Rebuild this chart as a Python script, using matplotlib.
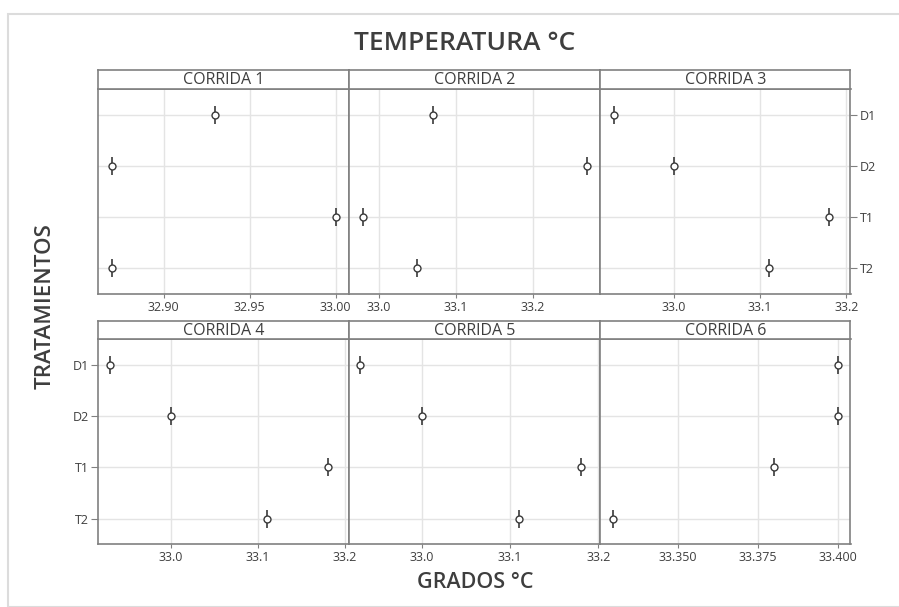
import matplotlib.pyplot as plt
import matplotlib.patches as mpatches
from matplotlib.ticker import FormatStrFormatter

plt.rcParams['font.family'] = ['Open Sans', 'DejaVu Sans']

# %% data
treatments = ['D1', 'D2', 'T1', 'T2']
corrida_1 = [32.93, 32.87, 33.00, 32.87]
corrida_2 = [33.07, 33.27, 32.98, 33.05]
corrida_3 = [32.93, 33.00, 33.18, 33.11]
corrida_4 = [32.93, 33.00, 33.18, 33.11]
corrida_5 = [32.93, 33.00, 33.18, 33.11]
corrida_6 = [33.40, 33.40, 33.38, 33.33]
panel_titles = ['CORRIDA 1', 'CORRIDA 2', 'CORRIDA 3',
                'CORRIDA 4', 'CORRIDA 5', 'CORRIDA 6']
x_ticks = [[32.90, 32.95, 33.00], [33.0, 33.1, 33.2], [33.0, 33.1, 33.2],
           [33.0, 33.1, 33.2], [33.0, 33.1, 33.2], [33.350, 33.375, 33.400]]
x_fmt = ['%.2f', '%.1f', '%.1f', '%.1f', '%.1f', '%.3f']
x_lims = [(32.862, 33.008), (32.962, 33.287), (32.914, 33.205),
          (32.917, 33.205), (32.918, 33.202), (33.3258, 33.404)]
series = [corrida_1, corrida_2, corrida_3, corrida_4, corrida_5, corrida_6]

# %% layout (pixels)
W, H = 899, 607
txt = '#3e3e3e'
edge = '#808080'
col_l = [98.3, 349.3, 600.0]
col_r = [349.3, 600.0, 850.5]
rows = [(89.3, 294.0, 70.0), (339.3, 544.3, 320.7)]  # plot top, plot bottom, strip top


def px(l, t, r, b):
    return [l / W, 1 - b / H, (r - l) / W, (b - t) / H]


fig = plt.figure(figsize=(W / 100, H / 100), dpi=100)
fig.patches.append(mpatches.Rectangle((7.5 / W, 0), 1, 1 - 13.5 / H, transform=fig.transFigure,
                                      fill=False, edgecolor='#dcdcdc', linewidth=1.5))

ypos = list(range(len(treatments)))
for i, vals in enumerate(series):
    r, c = divmod(i, 3)
    top, bot, stop = rows[r]
    ax = fig.add_axes(px(col_l[c], top, col_r[c], bot))
    ax.set_axisbelow(True)
    ax.grid(True, color='#e4e4e4', linewidth=1)
    ax.plot(vals, ypos, linestyle='none', marker='|', markersize=13,
            markeredgewidth=1.2, color='#3a3a3a')
    ax.plot(vals, ypos, linestyle='none', marker='o', markersize=5,
            markerfacecolor='white', markeredgewidth=1, color='#3a3a3a')
    ax.set_xlim(*x_lims[i])
    ax.set_ylim(len(treatments) - 0.5, -0.5)
    ax.set_xticks(x_ticks[i])
    ax.xaxis.set_major_formatter(FormatStrFormatter(x_fmt[i]))
    ax.set_yticks(ypos)
    ax.set_yticklabels(treatments)
    for s in ax.spines.values():
        s.set_color(edge)
        s.set_linewidth(1.2)
    ax.tick_params(axis='x', length=3, color=edge, labelsize=9, labelcolor=txt, pad=2)
    ax.tick_params(axis='y', length=5, color=edge, labelsize=9, labelcolor=txt, pad=2)
    if i == 2:
        ax.yaxis.tick_right()
    elif i == 3:
        ax.yaxis.tick_left()
    else:
        ax.tick_params(axis='y', left=False, right=False, labelleft=False, labelright=False)

    # strip header
    sax = fig.add_axes(px(col_l[c], stop, col_r[c], top))
    sax.set_xticks([])
    sax.set_yticks([])
    for s in sax.spines.values():
        s.set_color(edge)
        s.set_linewidth(1.2)
    sax.text(0.5, 0.47, panel_titles[i], ha='center', va='center',
             fontsize=11.5, color=txt, transform=sax.transAxes)

fig.text(465 / W, 1 - 43 / H, 'TEMPERATURA °C', ha='center', va='center',
         fontsize=19, fontweight='semibold', color=txt)
fig.text(475 / W, 1 - 583 / H, 'GRADOS °C', ha='center', va='center',
         fontsize=15.5, fontweight='semibold', color=txt)
fig.text(45 / W, 1 - 306 / H, 'TRATAMIENTOS', ha='center', va='center',
         rotation=90, fontsize=16, fontweight='semibold', color=txt)

fig.savefig('out.png', dpi=100)
